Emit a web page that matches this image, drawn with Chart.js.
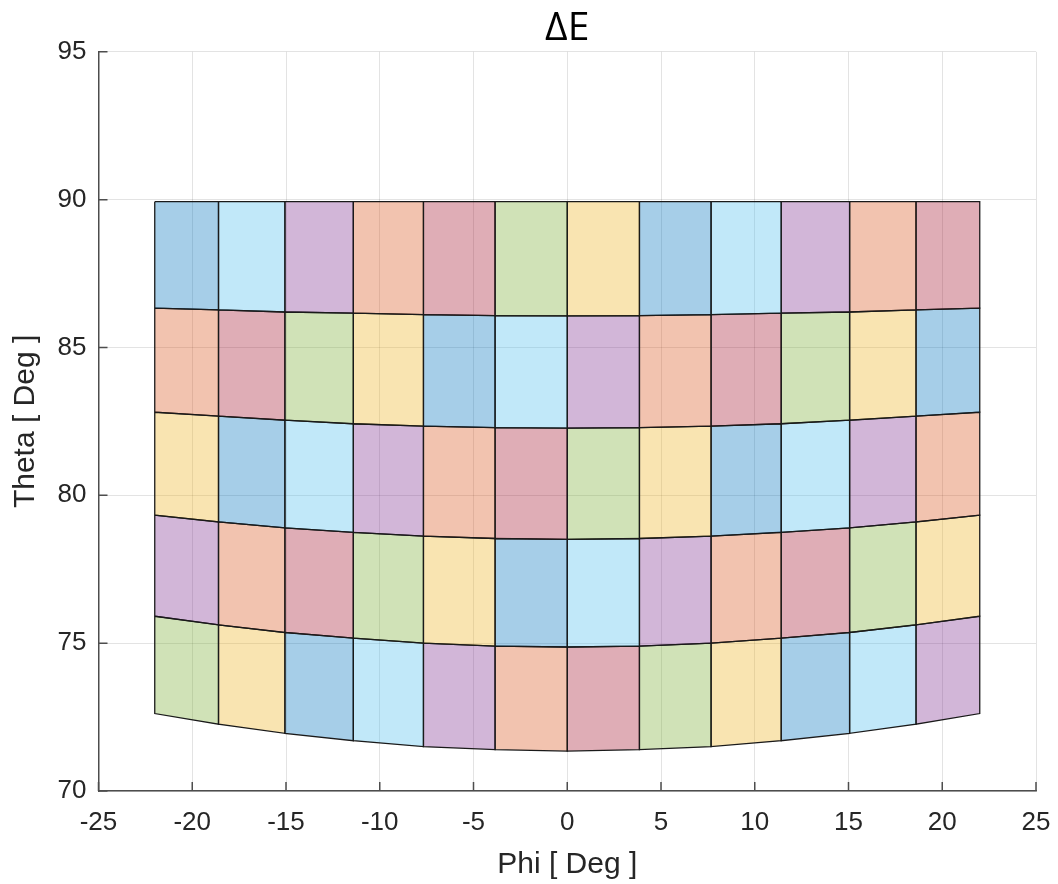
<!DOCTYPE html>
<html>
<head>
<meta charset="utf-8">
<title>ΔE</title>
<script src="https://cdn.jsdelivr.net/npm/chart.js@4.4.1/dist/chart.umd.min.js"></script>
<style>
  html, body { margin: 0; padding: 0; background: #ffffff; }
  #wrap { width: 1058px; height: 884px; position: relative; }
</style>
</head>
<body>
<div id="wrap"><canvas id="deltaChart"></canvas></div>
<script>
// Bordes de columna en Phi (grados)
const phiEdges = [-22, -18.6, -15.06, -11.41, -7.67, -3.85, 0, 3.85, 7.67, 11.41, 15.06, 18.6, 22];

// Bordes de fila en Theta (grados), un valor por borde de columna, de arriba a abajo
const thetaEdge0 = [89.93, 89.93, 89.93, 89.93, 89.93, 89.93, 89.93, 89.93, 89.93, 89.93, 89.93, 89.93, 89.93];
const thetaEdge1 = [86.33, 86.27, 86.20, 86.16, 86.11, 86.08, 86.07, 86.08, 86.11, 86.16, 86.20, 86.27, 86.33];
const thetaEdge2 = [82.81, 82.68, 82.54, 82.42, 82.34, 82.29, 82.27, 82.29, 82.34, 82.42, 82.54, 82.68, 82.81];
const thetaEdge3 = [79.33, 79.10, 78.90, 78.75, 78.62, 78.54, 78.51, 78.54, 78.62, 78.75, 78.90, 79.10, 79.33];
const thetaEdge4 = [75.91, 75.62, 75.36, 75.17, 75.00, 74.90, 74.87, 74.90, 75.00, 75.17, 75.36, 75.62, 75.91];
const thetaEdge5 = [72.62, 72.26, 71.95, 71.70, 71.50, 71.40, 71.35, 71.40, 71.50, 71.70, 71.95, 72.26, 72.62];
const thetaEdges = [thetaEdge0, thetaEdge1, thetaEdge2, thetaEdge3, thetaEdge4, thetaEdge5];

// Color de cada celda, fila por fila
const rowColors = [
    ['blue', 'cyan', 'purple', 'orange', 'red', 'green', 'yellow', 'blue', 'cyan', 'purple', 'orange', 'red'],
    ['orange', 'red', 'green', 'yellow', 'blue', 'cyan', 'purple', 'orange', 'red', 'green', 'yellow', 'blue'],
    ['yellow', 'blue', 'cyan', 'purple', 'orange', 'red', 'green', 'yellow', 'blue', 'cyan', 'purple', 'orange'],
    ['purple', 'orange', 'red', 'green', 'yellow', 'blue', 'cyan', 'purple', 'orange', 'red', 'green', 'yellow'],
    ['green', 'yellow', 'blue', 'cyan', 'purple', 'orange', 'red', 'green', 'yellow', 'blue', 'cyan', 'purple']
];

const xTicks = [-25, -20, -15, -10, -5, 0, 5, 10, 15, 20, 25];
const yTicks = [70, 75, 80, 85, 90, 95];

const palette = {
    blue: 'rgba(0, 114, 189, 0.35)',
    orange: 'rgba(217, 83, 25, 0.35)',
    yellow: 'rgba(237, 177, 32, 0.35)',
    purple: 'rgba(126, 47, 142, 0.35)',
    green: 'rgba(119, 172, 48, 0.35)',
    cyan: 'rgba(77, 190, 238, 0.35)',
    red: 'rgba(162, 20, 47, 0.35)'
};

const axisColor = '#4d4d4d';
const textColor = '#262626';
const gridColor = 'rgba(38, 38, 38, 0.13)';
const sans = "'Liberation Sans', Arial, sans-serif";

// Un dataset por celda: poligono cerrado con relleno 'shape'
const datasets = [];
rowColors.forEach((row, r) => {
    row.forEach((colorName, c) => {
        const top = thetaEdges[r];
        const bottom = thetaEdges[r + 1];
        datasets.push({
            data: [
                { x: phiEdges[c], y: top[c] },
                { x: phiEdges[c + 1], y: top[c + 1] },
                { x: phiEdges[c + 1], y: bottom[c + 1] },
                { x: phiEdges[c], y: bottom[c] },
                { x: phiEdges[c], y: top[c] }
            ],
            backgroundColor: palette[colorName],
            borderColor: '#1a1a1a',
            borderWidth: 1.3,
            fill: 'shape',
            pointRadius: 0,
            tension: 0
        });
    });
});

// Ticks hacia adentro, estilo MATLAB
const inwardTicks = {
    id: 'inwardTicks',
    afterDraw: (chart) => {
        const { ctx, chartArea } = chart;
        const { x, y } = chart.scales;
        ctx.save();
        ctx.strokeStyle = axisColor;
        ctx.lineWidth = 1.5;
        ctx.beginPath();
        xTicks.forEach(v => {
            const px = x.getPixelForValue(v);
            ctx.moveTo(px, chartArea.bottom);
            ctx.lineTo(px, chartArea.bottom - 9);
        });
        yTicks.forEach(v => {
            const py = y.getPixelForValue(v);
            ctx.moveTo(chartArea.left, py);
            ctx.lineTo(chartArea.left + 9, py);
        });
        ctx.stroke();
        ctx.restore();
    }
};

new Chart(document.getElementById('deltaChart'), {
    type: 'line',
    data: { datasets: datasets },
    options: {
        responsive: true,
        maintainAspectRatio: false,
        animation: false,
        layout: { padding: { left: 0, right: 22, top: 0, bottom: 0 } },
        plugins: {
            legend: { display: false },
            tooltip: { enabled: false },
            title: {
                display: true,
                fullSize: false, // centrado sobre el area del grafico
                text: 'ΔE',
                color: '#000000',
                font: { family: "'Open Sans', sans-serif", size: 39, weight: 'normal' },
                padding: { top: 5, bottom: 0 }
            }
        },
        scales: {
            x: {
                type: 'linear',
                min: -25,
                max: 25,
                afterFit: (scale) => {
                    scale.height = 93;
                    scale.paddingRight = 22;
                    scale.paddingLeft = 0;
                },
                ticks: {
                    stepSize: 5,
                    color: textColor,
                    padding: 16,
                    maxRotation: 0,
                    font: { family: sans, size: 26 }
                },
                grid: { color: gridColor, lineWidth: 1, drawTicks: false },
                border: { display: true, color: axisColor, width: 1.5 },
                title: {
                    display: true,
                    text: 'Phi [ Deg ]',
                    color: textColor,
                    font: { family: sans, size: 30 },
                    padding: { top: 0, bottom: 1 }
                }
            },
            y: {
                type: 'linear',
                min: 70,
                max: 95,
                afterFit: (scale) => { scale.width = 98.5; },
                ticks: {
                    stepSize: 5,
                    color: textColor,
                    padding: 12,
                    font: { family: sans, size: 26 }
                },
                grid: { color: gridColor, lineWidth: 1, drawTicks: false },
                border: { display: true, color: axisColor, width: 1.5 },
                title: {
                    display: true,
                    text: 'Theta [ Deg ]',
                    color: textColor,
                    font: { family: sans, size: 30 },
                    padding: { top: 8, bottom: 0 }
                }
            }
        }
    },
    plugins: [inwardTicks]
});
</script>
</body>
</html>
